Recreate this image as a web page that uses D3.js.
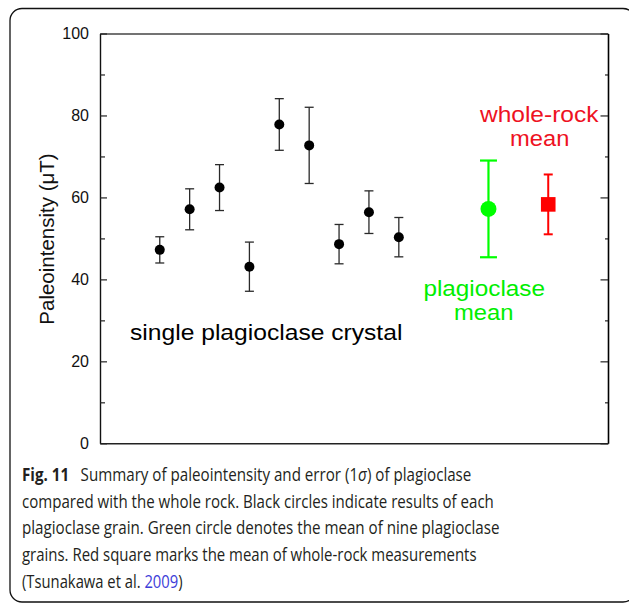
<!DOCTYPE html>
<html>
<head>
<meta charset="utf-8">
<script src="https://cdn.jsdelivr.net/npm/d3@7"></script>
<style>
  html, body { margin: 0; padding: 0; background: #fff; }
  svg { display: block; }
  .tick text { font-family: "Liberation Sans", Arial, sans-serif; }
</style>
</head>
<body>
<svg id="fig" width="629" height="603"></svg>
<script>
// Single plagioclase grains: position, paleointensity (μT), 1σ error
const grainIndex = [1, 2, 3, 4, 5, 6, 7, 8, 9];
const grainIntensity = [47.2, 57.1, 62.4, 43.1, 77.8, 72.7, 48.6, 56.4, 50.3];
const grainSigma = [3.2, 5.0, 5.6, 6.0, 6.3, 9.3, 4.8, 5.2, 4.8];

// Mean of the nine plagioclase grains
const plagMean = { pos: 12, value: 57.2, sigma: 11.8 };
// Whole-rock mean (Tsunakawa et al. 2009)
const rockMean = { pos: 14, value: 58.3, sigma: 7.3 };

const yMajorTicks = [0, 20, 40, 60, 80, 100];
const yMinorTicks = [10, 30, 50, 70, 90];

// Caption runs per line: [text, style]
const captionLines = [
  [["Fig. 11", "bold"], ["\u2002 Summary of paleointensity and error (1", ""], ["σ", "italic"], [") of plagioclase", ""]],
  [["compared with the whole rock. Black circles indicate results of each", ""]],
  [["plagioclase grain. Green circle denotes the mean of nine plagioclase", ""]],
  [["grains. Red square marks the mean of whole-rock measurements", ""]],
  [["(Tsunakawa et al. ", ""], ["2009", "link"], [")", ""]]
];

const svg = d3.select("#fig");

// Panel frame with rounded corners
svg.append("rect")
  .attr("x", 10).attr("y", 8.5)
  .attr("width", 625).attr("height", 593.5)
  .attr("rx", 12).attr("ry", 12)
  .attr("fill", "none")
  .attr("stroke", "#111")
  .attr("stroke-width", 1.3);

const plot = { left: 100, right: 608, top: 33.5, bottom: 443.3 };

const x = d3.scaleLinear().domain([-1, 16]).range([plot.left, plot.right]);
const y = d3.scaleLinear().domain([0, 100]).range([plot.bottom, plot.top]);

// Frame lines (top / bottom)
svg.append("g")
  .attr("transform", `translate(0,${plot.bottom})`)
  .call(d3.axisBottom(x).tickValues([]).tickSizeOuter(0))
  .call(g => g.select(".domain").attr("stroke", "#222").attr("stroke-width", 1.6));
svg.append("g")
  .attr("transform", `translate(0,${plot.top})`)
  .call(d3.axisTop(x).tickValues([]).tickSizeOuter(0))
  .call(g => g.select(".domain").attr("stroke", "#444").attr("stroke-width", 1.4));

// Left axis with inward ticks
svg.append("g")
  .attr("transform", `translate(${plot.left},0)`)
  .call(d3.axisLeft(y).tickValues(yMajorTicks).tickSize(-7).tickSizeOuter(0).tickPadding(11))
  .call(g => g.select(".domain").attr("stroke", "#111").attr("stroke-width", 1.4))
  .call(g => g.selectAll(".tick line").attr("stroke", "#222").attr("stroke-width", 1.2))
  .call(g => g.selectAll(".tick text").attr("font-size", 16).attr("fill", "#111"));
svg.append("g")
  .attr("transform", `translate(${plot.left},0)`)
  .call(d3.axisLeft(y).tickValues(yMinorTicks).tickSize(-5).tickSizeOuter(0).tickFormat(""))
  .call(g => g.select(".domain").remove())
  .call(g => g.selectAll(".tick line").attr("stroke", "#222").attr("stroke-width", 1.2));

// Right axis with inward ticks
svg.append("g")
  .attr("transform", `translate(${plot.right},0)`)
  .call(d3.axisRight(y).tickValues(yMajorTicks).tickSize(-7.5).tickSizeOuter(0).tickFormat(""))
  .call(g => g.select(".domain").attr("stroke", "#000").attr("stroke-width", 1.6))
  .call(g => g.selectAll(".tick line").attr("stroke", "#222").attr("stroke-width", 1.2));
svg.append("g")
  .attr("transform", `translate(${plot.right},0)`)
  .call(d3.axisRight(y).tickValues(yMinorTicks).tickSize(-3).tickSizeOuter(0).tickFormat(""))
  .call(g => g.select(".domain").remove())
  .call(g => g.selectAll(".tick line").attr("stroke", "#222").attr("stroke-width", 1.2));

// Y axis title
svg.append("text")
  .attr("transform", `translate(53.5,${(153 + 325) / 2}) rotate(-90)`)
  .attr("text-anchor", "middle")
  .attr("font-family", "Liberation Sans, Arial, sans-serif")
  .attr("font-size", 20.5)
  .attr("fill", "#111")
  .text("Paleointensity (μT)");

// Error bar helper
function errorBar(g, cx, v, s, capHalf, color, width) {
  const bar = g.append("g").attr("stroke", color).attr("stroke-width", width).attr("fill", "none");
  bar.append("line").attr("x1", x(cx)).attr("x2", x(cx)).attr("y1", y(v - s)).attr("y2", y(v + s));
  bar.append("line").attr("x1", x(cx) - capHalf).attr("x2", x(cx) + capHalf).attr("y1", y(v + s)).attr("y2", y(v + s));
  bar.append("line").attr("x1", x(cx) - capHalf).attr("x2", x(cx) + capHalf).attr("y1", y(v - s)).attr("y2", y(v - s));
}

const marks = svg.append("g");

// Individual grains
grainIndex.forEach((p, i) => {
  errorBar(marks, p, grainIntensity[i], grainSigma[i], 4.5, "#2a2a2a", 1.3);
});
marks.selectAll("circle.grain")
  .data(grainIndex)
  .join("circle")
  .attr("class", "grain")
  .attr("cx", d => x(d))
  .attr("cy", (d, i) => y(grainIntensity[i]))
  .attr("r", 5)
  .attr("fill", "#000");

// Plagioclase mean
errorBar(marks, plagMean.pos, plagMean.value, plagMean.sigma, 8.5, "#00ff00", 2.2);
marks.append("circle")
  .attr("cx", x(plagMean.pos)).attr("cy", y(plagMean.value))
  .attr("r", 8).attr("fill", "#00ff00");

// Whole-rock mean
errorBar(marks, rockMean.pos, rockMean.value, rockMean.sigma, 4.5, "#ff0000", 2);
marks.append("rect")
  .attr("x", x(rockMean.pos) - 7.3).attr("y", y(rockMean.value) - 7.3)
  .attr("width", 14.6).attr("height", 14.6)
  .attr("fill", "#ff0000");

// Annotations, stretched horizontally to the wide lettering of the figure
function label(txt, cx, baseline, len, color) {
  const t = svg.append("text")
    .attr("text-anchor", "middle")
    .attr("font-family", "Liberation Sans, Arial, sans-serif")
    .attr("font-size", 21.5)
    .attr("fill", color)
    .text(txt);
  const w = t.node().getComputedTextLength();
  t.attr("transform", `translate(${cx},${baseline}) scale(${len / w},1)`);
}
label("whole-rock", 539.2, 121.5, 118.5, "#ee1122");
label("mean", 539.7, 145.5, 59.3, "#ee1122");
label("plagioclase", 484.2, 295.7, 121.7, "#00ee00");
label("mean", 483.8, 320, 59.5, "#00ee00");
label("single plagioclase crystal", 266.2, 339.5, 272.4, "#000");

// Caption: one text element per line, condensed to the column width
const capFont = "'Open Sans', 'Noto Sans', sans-serif";
const capColor = "#231f20";
const capBase = [481, 507.7, 534.3, 561, 587.7];
const capWidths = [449.7, 472, 478, 455, 160.7];

captionLines.forEach((runs, i) => {
  const t = svg.append("text")
    .attr("font-family", capFont)
    .attr("font-size", 17.5)
    .attr("fill", capColor);
  runs.forEach(([s, style]) => {
    const ts = t.append("tspan").text(s);
    if (style === "bold") ts.attr("font-weight", "bold");
    if (style === "italic") ts.attr("font-style", "italic");
    if (style === "link") ts.attr("fill", "#3d3dd8");
  });
  const w = t.node().getComputedTextLength();
  t.attr("transform", `translate(22,${capBase[i]}) scale(${capWidths[i] / w},1)`);
});
</script>
</body>
</html>
